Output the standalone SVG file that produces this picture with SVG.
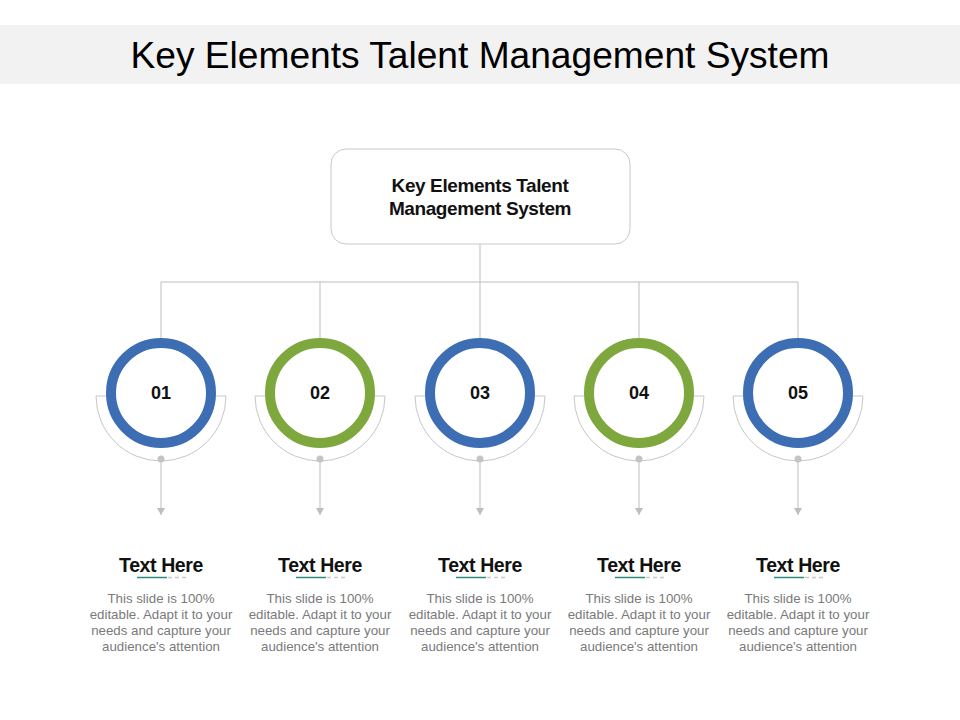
<svg xmlns="http://www.w3.org/2000/svg" width="960" height="720" viewBox="0 0 960 720">
<defs>
<style>
.title{font-family:"Liberation Sans",Arial,sans-serif;font-size:37px;fill:#000;text-anchor:middle}
.box{fill:#fff;stroke:#c9c9c9;stroke-width:1}
.boxt{font-family:"Liberation Sans",Arial,sans-serif;font-size:19px;font-weight:bold;fill:#111;text-anchor:middle;letter-spacing:-0.4px}
.ring-b{fill:#fff;stroke:#3d6db3;stroke-width:10}
.ring-g{fill:#fff;stroke:#7ea83d;stroke-width:10}
.num{font-family:"Liberation Sans",Arial,sans-serif;font-size:18px;font-weight:bold;fill:#111;text-anchor:middle}
.arc{fill:none;stroke:#c6c6c6;stroke-width:1}
.conn{fill:none;stroke:#bdbdbd;stroke-width:1}
.dot{fill:#c4c4c4}
.head{font-family:"Liberation Sans",Arial,sans-serif;font-size:19.5px;font-weight:bold;fill:#111;text-anchor:middle;letter-spacing:-0.4px}
.ul{stroke:#2f8a80;stroke-width:1.5}
.uld{stroke:#c8c8c8;stroke-width:1.5;stroke-dasharray:4 3}
.desc{font-family:"Liberation Sans",Arial,sans-serif;font-size:13.3px;fill:#7a7a7a;text-anchor:middle}
</style>
<marker id="arr" markerWidth="8" markerHeight="8" refX="7" refY="4" orient="auto" markerUnits="userSpaceOnUse" viewBox="0 0 8 8">
<path d="M0,0 L7,4 L0,8 Z" fill="#bdbdbd"/>
</marker>
</defs>
<rect width="960" height="720" fill="#fff"/>
<g id="title">
<rect x="0" y="25" width="960" height="59" fill="#f2f2f2"/>
<text class="title" x="480" y="68" textLength="699" lengthAdjust="spacingAndGlyphs">Key Elements Talent Management System</text>
</g>
<g id="connectors">
<path class="conn" d="M480,244 V282 M161,282 H798 M161,282 V338 M320,282 V338 M480,282 V338 M639,282 V338 M798,282 V338"/>
<path class="conn" d="M161,459 V515" marker-end="url(#arr)"/>
<path class="conn" d="M320,459 V515" marker-end="url(#arr)"/>
<path class="conn" d="M480,459 V515" marker-end="url(#arr)"/>
<path class="conn" d="M639,459 V515" marker-end="url(#arr)"/>
<path class="conn" d="M798,459 V515" marker-end="url(#arr)"/>
</g>
<g id="root">
<rect class="box" x="331" y="149" width="299" height="95" rx="15"/>
<text class="boxt" x="480" y="192">Key Elements Talent</text>
<text class="boxt" x="480" y="215">Management System</text>
</g>
<g id="node1">
<path class="arc" d="M96,396 A65,65 0 0 0 226,396 Z"/>
<circle class="ring-b" cx="161" cy="393" r="50"/>
<text class="num" x="161" y="399">01</text>
<circle class="dot" cx="161" cy="459" r="3.5"/>
<text class="head" x="161" y="572">Text Here</text>
<line class="ul" x1="137" y1="577.5" x2="167" y2="577.5"/>
<line class="uld" x1="168" y1="577.5" x2="188" y2="577.5"/>
<text class="desc" x="161" y="603">This slide is 100%</text>
<text class="desc" x="161" y="619">editable. Adapt it to your</text>
<text class="desc" x="161" y="635">needs and capture your</text>
<text class="desc" x="161" y="651">audience's attention</text>
</g>
<g id="node2">
<path class="arc" d="M255,396 A65,65 0 0 0 385,396 Z"/>
<circle class="ring-g" cx="320" cy="393" r="50"/>
<text class="num" x="320" y="399">02</text>
<circle class="dot" cx="320" cy="459" r="3.5"/>
<text class="head" x="320" y="572">Text Here</text>
<line class="ul" x1="296" y1="577.5" x2="326" y2="577.5"/>
<line class="uld" x1="327" y1="577.5" x2="347" y2="577.5"/>
<text class="desc" x="320" y="603">This slide is 100%</text>
<text class="desc" x="320" y="619">editable. Adapt it to your</text>
<text class="desc" x="320" y="635">needs and capture your</text>
<text class="desc" x="320" y="651">audience's attention</text>
</g>
<g id="node3">
<path class="arc" d="M415,396 A65,65 0 0 0 545,396 Z"/>
<circle class="ring-b" cx="480" cy="393" r="50"/>
<text class="num" x="480" y="399">03</text>
<circle class="dot" cx="480" cy="459" r="3.5"/>
<text class="head" x="480" y="572">Text Here</text>
<line class="ul" x1="456" y1="577.5" x2="486" y2="577.5"/>
<line class="uld" x1="487" y1="577.5" x2="507" y2="577.5"/>
<text class="desc" x="480" y="603">This slide is 100%</text>
<text class="desc" x="480" y="619">editable. Adapt it to your</text>
<text class="desc" x="480" y="635">needs and capture your</text>
<text class="desc" x="480" y="651">audience's attention</text>
</g>
<g id="node4">
<path class="arc" d="M574,396 A65,65 0 0 0 704,396 Z"/>
<circle class="ring-g" cx="639" cy="393" r="50"/>
<text class="num" x="639" y="399">04</text>
<circle class="dot" cx="639" cy="459" r="3.5"/>
<text class="head" x="639" y="572">Text Here</text>
<line class="ul" x1="615" y1="577.5" x2="645" y2="577.5"/>
<line class="uld" x1="646" y1="577.5" x2="666" y2="577.5"/>
<text class="desc" x="639" y="603">This slide is 100%</text>
<text class="desc" x="639" y="619">editable. Adapt it to your</text>
<text class="desc" x="639" y="635">needs and capture your</text>
<text class="desc" x="639" y="651">audience's attention</text>
</g>
<g id="node5">
<path class="arc" d="M733,396 A65,65 0 0 0 863,396 Z"/>
<circle class="ring-b" cx="798" cy="393" r="50"/>
<text class="num" x="798" y="399">05</text>
<circle class="dot" cx="798" cy="459" r="3.5"/>
<text class="head" x="798" y="572">Text Here</text>
<line class="ul" x1="774" y1="577.5" x2="804" y2="577.5"/>
<line class="uld" x1="805" y1="577.5" x2="825" y2="577.5"/>
<text class="desc" x="798" y="603">This slide is 100%</text>
<text class="desc" x="798" y="619">editable. Adapt it to your</text>
<text class="desc" x="798" y="635">needs and capture your</text>
<text class="desc" x="798" y="651">audience's attention</text>
</g>
</svg>
